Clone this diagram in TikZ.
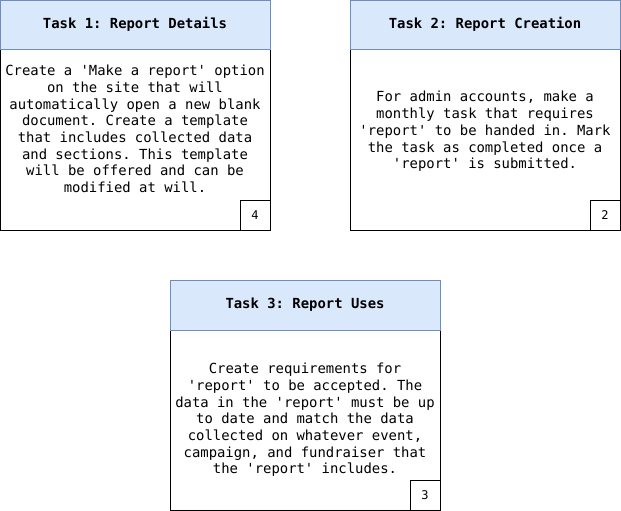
\documentclass[tikz,border=0pt]{standalone}
\usepackage{fontspec}
\setmonofont{DejaVu Sans Mono}
\definecolor{hdrfill}{HTML}{DAE8FC}
\definecolor{hdrline}{HTML}{6C8EBF}
\begin{document}
\frenchspacing
\begin{tikzpicture}[x=1pt,y=-1pt,
  hdr/.style={fill=hdrfill,draw=hdrline,line width=1pt},
  bodybox/.style={draw=black,line width=1pt},
  txt/.style={font=\ttfamily\fontsize{13.9}{16.7}\selectfont,align=center,inner sep=0pt},
  ttl/.style={font=\ttfamily\fontsize{13.9}{16.7}\selectfont\bfseries,inner sep=0pt},
  numtxt/.style={font=\ttfamily\fontsize{12}{14}\selectfont,inner sep=0pt}]
\useasboundingbox (0,0) rectangle (621,511);
% Task 1
\draw[bodybox] (0.5,50) rectangle (270,230);
\draw[hdr] (0.5,0.5) rectangle (270,50);
\node[ttl] (t1) at (135,24) {Task 1: Report Details};
\node[txt] (b1) at (135,129) {Create a 'Make a report' option\\on the site that will\\automatically open a new blank\\document. Create a template\\that includes collected data\\and sections. This template\\will be offered and can be\\modified at will.};
\draw[bodybox] (240,200) rectangle (270,230);
\node[numtxt] (n1) at (255,215) {4};
% Task 2
\draw[bodybox] (350,50) rectangle (620,230);
\draw[hdr] (350,0.5) rectangle (620,50);
\node[ttl] (t2) at (485,24) {Task 2: Report Creation};
\node[txt] (b2) at (485,131.5) {For admin accounts, make a\\monthly task that requires\\'report' to be handed in. Mark\\the task as completed once a\\'report' is submitted.};
\draw[bodybox] (590,200) rectangle (620,230);
\node[numtxt] (n2) at (605,215) {2};
% Task 3
\draw[bodybox] (170,330) rectangle (440,510);
\draw[hdr] (170,280.5) rectangle (440,330);
\node[ttl] (t3) at (305,304.5) {Task 3: Report Uses};
\node[txt] (b3) at (305,420) {Create requirements for\\'report' to be accepted. The\\data in the 'report' must be up\\to date and match the data\\collected on whatever event,\\campaign, and fundraiser that\\the 'report' includes.};
\draw[bodybox] (410,480) rectangle (440,510);
\node[numtxt] (n3) at (425,495) {3};
\end{tikzpicture}
\end{document}
